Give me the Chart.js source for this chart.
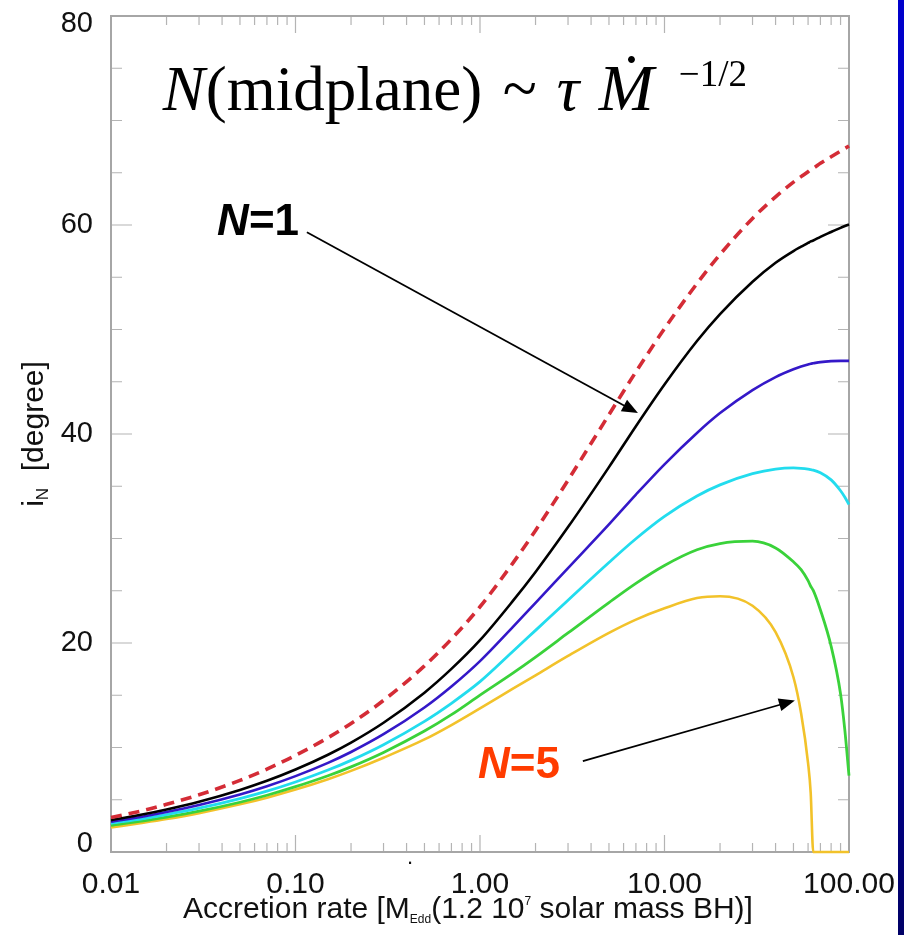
<!DOCTYPE html>
<html>
<head>
<meta charset="utf-8">
<script src="https://cdn.jsdelivr.net/npm/chart.js@4.4.1/dist/chart.umd.min.js"></script>
<style>
html,body{margin:0;padding:0;background:#fff;}
#wrap{position:relative;width:916px;height:935px;overflow:hidden;}
#bar{position:absolute;left:898px;top:0;width:6px;height:935px;background:linear-gradient(#0000cc,#0000b0 60%,#000066);}
</style>
</head>
<body>
<div id="wrap"><canvas id="c"></canvas><div id="bar"></div></div>
<script>
// Accretion rate grid (M_Edd units)
const accretionRate = [0.01, 0.015, 0.02, 0.03, 0.05, 0.07, 0.1, 0.15, 0.2, 0.3, 0.5, 0.7, 1, 1.5, 2, 3, 5, 7, 10, 15, 20, 30, 40, 50, 55, 60, 62, 64, 70, 80, 90, 95, 100];
// inclination i_N [degree]
const iMidplane = [3.3, 3.98, 4.56, 5.47, 6.85, 7.93, 9.25, 10.94, 12.3, 14.51, 17.81, 20.38, 23.47, 27.6, 30.77, 35.58, 41.85, 45.95, 50.08, 54.4, 57.18, 60.63, 62.7, 64.1, 64.63, 65.1, 65.3, 65.43, 65.9, 66.53, 67.08, 67.33, 67.56];
const iN1 = [3.05, 3.61, 4.07, 4.81, 5.94, 6.81, 7.89, 9.31, 10.47, 12.37, 15.25, 17.52, 20.27, 23.98, 26.8, 31.09, 36.83, 40.75, 44.74, 48.9, 51.48, 54.57, 56.39, 57.51, 57.92, 58.28, 58.43, 58.52, 58.87, 59.33, 59.73, 59.9, 60.06];
const iN2 = [2.9, 3.4, 3.82, 4.49, 5.5, 6.29, 7.26, 8.53, 9.57, 11.27, 13.83, 15.84, 18.27, 21.5, 23.85, 27.17, 31.35, 34.2, 37.1, 40.1, 42.0, 44.2, 45.45, 46.2, 46.46, 46.66, 46.73, 46.77, 46.88, 46.97, 47.0, 47.0, 47.0];
const iN3 = [2.75, 3.2, 3.58, 4.19, 5.11, 5.82, 6.7, 7.84, 8.77, 10.27, 12.5, 14.23, 16.3, 19.16, 21.21, 24.1, 27.71, 29.98, 32.12, 34.07, 35.13, 36.2, 36.64, 36.75, 36.72, 36.64, 36.59, 36.55, 36.29, 35.61, 34.57, 33.95, 33.25];
const iN4 = [2.55, 2.97, 3.33, 3.9, 4.76, 5.43, 6.25, 7.3, 8.15, 9.53, 11.57, 13.14, 15.01, 17.09, 18.65, 20.96, 23.87, 25.71, 27.42, 28.92, 29.52, 29.74, 29.1, 27.77, 27.02, 25.97, 25.43, 25.03, 23.16, 19.69, 15.13, 11.61, 7.3];
const iN5 = [2.35, 2.8, 3.15, 3.72, 4.56, 5.2, 5.97, 6.96, 7.76, 9.02, 10.77, 12.15, 13.75, 15.6, 16.91, 18.76, 20.97, 22.24, 23.32, 24.3, 24.48, 23.57, 21.04, 16.72, 13.27, 8.51, 5.66, 0, 0, 0, 0, 0, 0];

const xTickValues = [0.01, 0.1, 1, 10, 100];
const xTickLabels = ['0.01', '0.10', '1.00', '10.00', '100.00'];
const yTickValues = [0, 20, 40, 60, 80];
const yTickLabels = ['0', '20', '40', '60', '80'];

const series = [
  {label: 'midplane', values: iMidplane, color: '#d42c36', width: 3.6, dash: [11, 7]},
  {label: 'N=1', values: iN1, color: '#000000', width: 2.6},
  {label: 'N=2', values: iN2, color: '#3418c8', width: 2.6},
  {label: 'N=3', values: iN3, color: '#22dcee', width: 2.8},
  {label: 'N=4', values: iN4, color: '#3ad23a', width: 2.8},
  {label: 'N=5', values: iN5, color: '#f2c22a', width: 2.6}
];

// annotation anchors in data coordinates
const formulaAt = {x: 0.0191, y: 71.0};
const labelN1At = {x: 0.0376, y: 59.0};
const arrowN1 = {from: {x: 0.1153, y: 59.3}, to: {x: 7.18, y: 42.0}};
const labelN5At = {x: 0.975, y: 7.1};
const arrowN5 = {from: {x: 3.61, y: 8.7}, to: {x: 50.9, y: 14.5}};

const SANS = '"Liberation Sans", Arial, Helvetica, sans-serif';
const SERIF = '"Liberation Serif", "Times New Roman", "DejaVu Serif", serif';

function drawArrow(ctx, x1, y1, x2, y2) {
  const ang = Math.atan2(y2 - y1, x2 - x1);
  const L = 16, W = 6.5;
  ctx.beginPath();
  ctx.moveTo(x1, y1);
  ctx.lineTo(x2 - L * 0.8 * Math.cos(ang), y2 - L * 0.8 * Math.sin(ang));
  ctx.stroke();
  ctx.beginPath();
  ctx.moveTo(x2, y2);
  ctx.lineTo(x2 - L * Math.cos(ang) + W * Math.sin(ang), y2 - L * Math.sin(ang) - W * Math.cos(ang));
  ctx.lineTo(x2 - L * Math.cos(ang) - W * Math.sin(ang), y2 - L * Math.sin(ang) + W * Math.cos(ang));
  ctx.closePath();
  ctx.fill();
}

function drawParts(ctx, parts, x, y, base, sub, sup, family) {
  for (const p of parts) {
    let size = base, dy = 0;
    if (p[1] === 'sub') { size = sub; dy = base * 0.18; }
    if (p[1] === 'sup') { size = sup; dy = -base * 0.42; }
    ctx.font = size + 'px ' + family;
    ctx.fillText(p[0], x, y + dy);
    x += ctx.measureText(p[0]).width;
  }
}
function partsWidth(ctx, parts, base, sub, sup, family) {
  let w = 0;
  for (const p of parts) {
    const size = p[1] === 'sub' ? sub : p[1] === 'sup' ? sup : base;
    ctx.font = size + 'px ' + family;
    w += ctx.measureText(p[0]).width;
  }
  return w;
}

const framePlugin = {
  id: 'frame',
  beforeDatasetsDraw(chart) {
    const {ctx, chartArea: a, scales: {x, y}} = chart;
    ctx.save();
    ctx.strokeStyle = '#b4b4b4';
    ctx.lineWidth = 1.2;
    for (let d = -2; d < 2; d++) {
      for (let k = 1; k <= 9; k++) {
        const px = x.getPixelForValue(k * Math.pow(10, d));
        const L = k === 1 ? 17 : 9;
        ctx.beginPath();
        ctx.moveTo(px, a.bottom); ctx.lineTo(px, a.bottom - L);
        ctx.moveTo(px, a.top); ctx.lineTo(px, a.top + L);
        ctx.stroke();
      }
    }
    for (let v = 0; v <= 80; v += 5) {
      const py = y.getPixelForValue(v);
      const L = v % 20 === 0 ? 21 : 11;
      ctx.beginPath();
      ctx.moveTo(a.left, py); ctx.lineTo(a.left + L, py);
      ctx.moveTo(a.right, py); ctx.lineTo(a.right - L, py);
      ctx.stroke();
    }
    ctx.strokeStyle = '#a6a6a6';
    ctx.lineWidth = 2;
    ctx.strokeRect(a.left, a.top, a.right - a.left, a.bottom - a.top);
    ctx.restore();
  },
  afterDatasetsDraw(chart) {
    const {ctx, chartArea: a, scales: {x, y}} = chart;
    ctx.save();
    ctx.textBaseline = 'alphabetic';
    ctx.textAlign = 'left';
    // formula
    const fx = x.getPixelForValue(formulaAt.x), fy = y.getPixelForValue(formulaAt.y);
    ctx.fillStyle = '#000';
    ctx.font = 'italic 63px ' + SERIF;
    ctx.fillText('N', fx, fy);
    const wN = ctx.measureText('N').width;
    ctx.font = '63px ' + SERIF;
    ctx.fillText('(midplane)', fx + wN + 1, fy);
    ctx.fillText('~', fx + 340, fy);
    ctx.font = 'italic 63px ' + SERIF;
    ctx.fillText('\u03C4', fx + 394, fy);
    ctx.font = 'italic 66px ' + SERIF;
    ctx.fillText('\u1E40', fx + 436, fy);
    ctx.font = '37px ' + SERIF;
    ctx.fillText('\u22121/2', fx + 516, fy - 24);

    // N=1 label
    const n1x = x.getPixelForValue(labelN1At.x), n1y = y.getPixelForValue(labelN1At.y);
    ctx.font = 'italic bold 44px ' + SANS;
    ctx.fillText('N', n1x, n1y);
    let w = ctx.measureText('N').width;
    ctx.font = 'bold 44px ' + SANS;
    ctx.fillText('=1', n1x + w, n1y);
    // N=5 label
    const n5x = x.getPixelForValue(labelN5At.x), n5y = y.getPixelForValue(labelN5At.y);
    ctx.fillStyle = '#ff3c00';
    ctx.font = 'italic bold 44px ' + SANS;
    ctx.fillText('N', n5x, n5y);
    w = ctx.measureText('N').width;
    ctx.font = 'bold 44px ' + SANS;
    ctx.fillText('=5', n5x + w, n5y);

    // arrows
    ctx.fillStyle = '#000';
    ctx.strokeStyle = '#000';
    ctx.lineWidth = 1.8;
    for (const ar of [arrowN1, arrowN5]) {
      drawArrow(ctx, x.getPixelForValue(ar.from.x), y.getPixelForValue(ar.from.y),
                x.getPixelForValue(ar.to.x), y.getPixelForValue(ar.to.y));
    }

    // x axis title
    ctx.fillStyle = '#111';
    const xParts = [['Accretion rate [M', 'n'], ['Edd', 'sub'], ['(1.2 10', 'n'], ['7', 'sup'], [' solar mass BH)]', 'n']];
    const xw = partsWidth(ctx, xParts, 30, 12, 12, SANS);
    drawParts(ctx, xParts, (a.left + a.right) / 2 - 12 - xw / 2, a.bottom + 66, 30, 12, 12, SANS);
    // stray dot below axis
    ctx.font = '22px ' + SANS;
    ctx.fillText('.', x.getPixelForValue(0.418) - 3, a.bottom + 12);

    // y axis title
    const yParts = [['i', 'n'], ['N', 'sub'], ['  [degree]', 'n']];
    const yw = partsWidth(ctx, yParts, 30, 17, 17, SANS);
    ctx.translate(43, (a.top + a.bottom) / 2);
    ctx.rotate(-Math.PI / 2);
    drawParts(ctx, yParts, -yw / 2, 0, 30, 17, 17, SANS);
    ctx.restore();
  }
};

new Chart(document.getElementById('c'), {
  type: 'line',
  data: {
    datasets: series.map(s => ({
      label: s.label,
      data: accretionRate.map((m, i) => ({x: m, y: s.values[i]})),
      borderColor: s.color,
      borderWidth: s.width,
      borderDash: s.dash || [],
      pointRadius: 0,
      fill: false,
      cubicInterpolationMode: 'monotone',
      clip: 8
    }))
  },
  options: {
    responsive: true,
    maintainAspectRatio: false,
    animation: false,
    layout: {padding: {left: 0, right: 67, top: 16, bottom: 0}},
    plugins: {legend: {display: false}, tooltip: {enabled: false}},
    scales: {
      x: {
        type: 'logarithmic',
        min: 0.01, max: 100,
        afterBuildTicks: s => { s.ticks = xTickValues.map(v => ({value: v})); },
        afterFit: s => { s.height = 83; s.paddingLeft = 0; s.paddingRight = 0; },
        grid: {display: false},
        border: {display: false},
        ticks: {
          autoSkip: false, maxRotation: 0, padding: 10,
          color: '#111',
          font: {family: SANS, size: 30, lineHeight: 1},
          callback: (v, i) => xTickLabels[i]
        }
      },
      y: {
        type: 'linear',
        min: 0, max: 80,
        afterBuildTicks: s => { s.ticks = yTickValues.map(v => ({value: v})); },
        afterFit: s => { s.width = 111; s.paddingTop = 0; s.paddingBottom = 0; },
        grid: {display: false},
        border: {display: false},
        ticks: {
          padding: 10,
          color: '#111',
          font: {family: SANS, size: 29, lineHeight: 0.55},
          // end labels are nudged inside the frame, as in the original plot
          callback: (v, i) => i === 0 ? [yTickLabels[i], ''] :
                              i === yTickLabels.length - 1 ? ['', yTickLabels[i]] : yTickLabels[i]
        }
      }
    }
  },
  plugins: [framePlugin]
});
</script>
</body>
</html>
